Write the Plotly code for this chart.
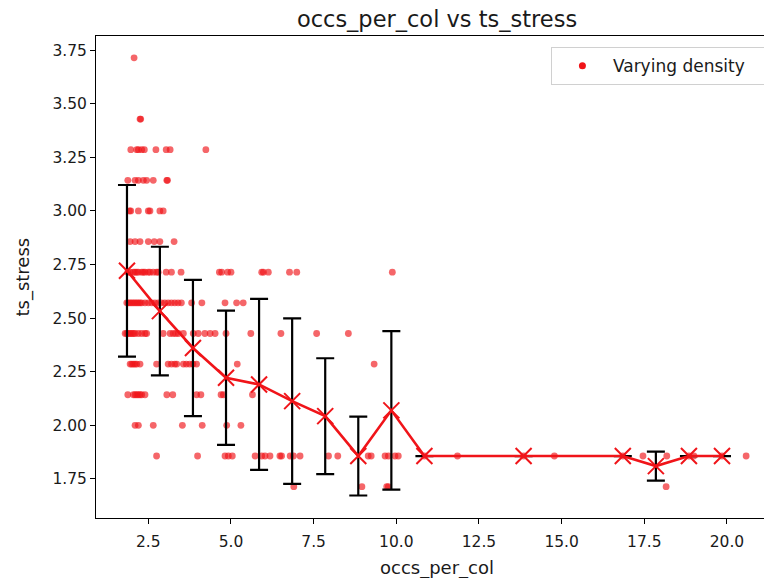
import plotly.graph_objects as go

# ---- data ----
# scatter points grouped by ts_stress level (value, list of occs_per_col)
rows = {
    26/7: [2.07],
    24/7: [2.25, 2.27],
    23/7: [1.97, 2.15, 2.2, 2.3, 2.38, 2.73, 3.04, 3.16, 4.24],
    22/7: [1.88, 2.1, 2.2, 2.35, 2.45, 2.65, 3.06, 3.08],
    21/7: [1.93, 1.97, 2.2, 2.5, 2.55, 2.85, 2.95],
    20/7: [1.95, 2.1, 2.25, 2.5, 2.68, 2.85, 3.28],
    19/7: [1.88, 1.95, 2.05, 2.1, 2.15, 2.2, 2.3, 2.35, 2.4, 2.5, 2.55, 2.65, 2.75, 2.8,
           3.04, 3.2, 3.49, 4.65, 4.72, 4.9, 5.0, 5.93, 5.98, 6.13, 6.77, 6.99, 9.88],
    18/7: [1.85, 1.9, 1.95, 2.0, 2.05, 2.1, 2.15, 2.2, 2.25, 2.3, 2.4, 2.5, 2.6, 2.7, 2.8,
           2.9, 3.0, 3.1, 3.2, 3.3, 3.4, 3.5, 3.81, 4.12, 4.82, 5.17, 5.37],
    17/7: [1.8, 1.85, 1.9, 1.95, 2.0, 2.05, 2.1, 2.2, 2.3, 2.4, 2.45, 2.95, 3.16, 3.25, 3.33,
           3.41, 3.56, 3.86, 4.01, 4.21, 4.37, 4.52, 4.85, 5.6, 6.51, 7.59, 8.55],
    16/7: [1.95, 2.0, 2.05, 2.1, 2.15, 2.25, 2.75, 3.1, 3.2, 3.3, 3.36, 3.56, 3.65, 3.75,
           3.85, 3.96, 5.19, 9.33],
    15/7: [1.88, 2.05, 2.1, 2.15, 2.2, 2.25, 2.3, 2.4, 3.06, 3.24, 3.96, 4.09, 4.7, 4.77, 5.65],
    14/7: [2.1, 2.2, 2.65, 3.53, 4.13, 4.87, 5.3],
    13/7: [2.75, 3.99, 4.82, 4.92, 5.04, 5.73, 5.93, 6.03, 6.18, 6.48, 6.53, 6.79, 6.89, 7.09,
           7.95, 8.23, 9.15, 9.24, 9.66, 9.76, 9.96, 10.06, 10.85, 11.85, 13.85, 14.78, 16.85,
           17.46, 18.18, 18.85, 19.0, 19.85, 20.58],
    12/7: [6.9, 8.96, 9.71, 9.76, 18.16],
}

# binned means and standard deviations
bin_x = [1.855, 2.85, 3.85, 4.85, 5.85, 6.85, 7.85, 8.85, 9.85, 10.85, 13.85, 16.85, 17.85, 18.85, 19.85]
bin_mean = [2.721, 2.533, 2.361, 2.222, 2.191, 2.113, 2.043, 1.857, 2.07, 1.857, 1.857, 1.857, 1.81, 1.857, 1.857]
bin_sd = [0.40, 0.30, 0.318, 0.313, 0.399, 0.386, 0.27, 0.184, 0.37, 0.0, 0.0, 0.0, 0.068, 0.0, 0.0]

x_ticks = [2.5, 5.0, 7.5, 10.0, 12.5, 15.0, 17.5, 20.0]
y_ticks = [1.75, 2.00, 2.25, 2.50, 2.75, 3.00, 3.25, 3.50, 3.75]

pts_x, pts_y = [], []
for yv, xs in rows.items():
    for xv in xs:
        pts_x.append(xv)
        pts_y.append(yv)

RED = "rgb(240,20,25)"
FONT = "DejaVu Sans"
TXT = "#1a1a1a"
NB = "\u00a0"

fig = go.Figure()
fig.add_trace(go.Scatter(
    x=pts_x, y=pts_y, mode="markers", name="Varying density", showlegend=False,
    marker=dict(size=6.8, color=RED, opacity=0.65, line=dict(width=0)),
))
# legend entry (solid marker, as in the reference legend)
fig.add_trace(go.Scatter(
    x=[None], y=[None], mode="markers", name="Varying density" + NB * 3,
    marker=dict(size=7, color=RED, line=dict(width=0)),
))
fig.add_trace(go.Scatter(
    x=bin_x, y=bin_mean, mode="markers", showlegend=False,
    marker=dict(size=1, color="rgba(0,0,0,0)"),
    error_y=dict(type="data", array=bin_sd, visible=True, color="black",
                 thickness=2.2, width=9),
))
fig.add_trace(go.Scatter(
    x=bin_x, y=bin_mean, mode="lines+markers", showlegend=False,
    line=dict(color=RED, width=2.6),
    marker=dict(symbol="x-thin", size=16, color=RED, line=dict(color=RED, width=2)),
))

fig.update_layout(
    width=764, height=578,
    margin=dict(l=96, r=0, t=36, b=60, autoexpand=False),
    paper_bgcolor="white", plot_bgcolor="white",
    font=dict(family=FONT, size=15.5, color=TXT),
    showlegend=True,
    legend=dict(x=0.681, y=0.977, xanchor="left", yanchor="top",
                bordercolor="#d0d0d0", borderwidth=1, bgcolor="white",
                font=dict(family=FONT, size=17, color=TXT), itemwidth=51),
    title=dict(text="occs_per_col vs ts_stress", xref="container", x=437/764,
               xanchor="center", yref="container", y=1-19/578, yanchor="middle",
               font=dict(family=FONT, size=22.5, color=TXT)),
    xaxis=dict(range=[0.918, 21.12], tickvals=x_ticks,
               ticktext=[f"{v:.1f}" for v in x_ticks],
               showline=True, linecolor="black", linewidth=1, mirror=True,
               ticks="outside", ticklen=5, tickcolor="black", tickwidth=1,
               ticklabelstandoff=4,
               showgrid=False, zeroline=False),
    yaxis=dict(range=[1.568, 3.816], tickvals=y_ticks,
               ticktext=[f"{v:.2f}" for v in y_ticks],
               showline=True, linecolor="black", linewidth=1, mirror=False,
               ticks="outside", ticklen=5, tickcolor="black", tickwidth=1,
               showgrid=False, zeroline=False),
    annotations=[
        dict(text="occs_per_col", xref="paper", yref="paper", x=(437-96)/668, y=-0.1037,
             xanchor="center", yanchor="middle", showarrow=False,
             font=dict(family=FONT, size=18, color=TXT)),
        dict(text="ts_stress", xref="paper", yref="paper", x=-0.11, y=0.5,
             xanchor="center", yanchor="middle", textangle=-90, showarrow=False,
             font=dict(family=FONT, size=18, color=TXT)),
    ],
)

fig.write_html("out.html")
